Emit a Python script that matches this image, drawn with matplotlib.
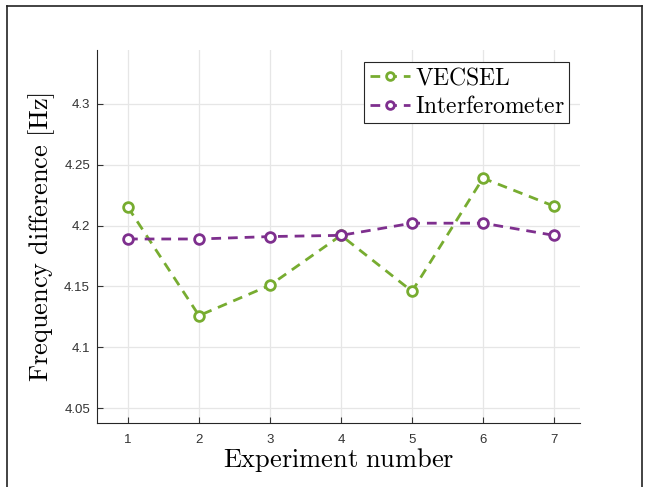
import matplotlib

matplotlib.use("Agg")
import matplotlib.pyplot as plt
from matplotlib.lines import Line2D

plt.rcParams["mathtext.fontset"] = "cm"
plt.rcParams["font.family"] = ["Liberation Sans", "DejaVu Sans"]

experiments = [1, 2, 3, 4, 5, 6, 7]
vecsel = [4.215, 4.126, 4.151, 4.192, 4.146, 4.239, 4.216]
interferometer = [4.189, 4.189, 4.191, 4.192, 4.202, 4.202, 4.192]
y_ticks = [4.05, 4.1, 4.15, 4.2, 4.25, 4.3]
y_tick_labels = ["4.05", "4.1", "4.15", "4.2", "4.25", "4.3"]

green = "#77AC30"
purple = "#7E2F8E"

fig = plt.figure(figsize=(6.47, 4.87), dpi=100)
ax = fig.add_axes([97 / 647, 1 - 423 / 487, (580 - 97) / 647, (423 - 50) / 487])

# figure frame (MATLAB export border)
frame = dict(color="#222222", linewidth=1.2, transform=fig.transFigure)
fig.add_artist(Line2D([7 / 647, 642 / 647], [1 - 6 / 487, 1 - 6 / 487], **frame))
fig.add_artist(Line2D([7 / 647, 7 / 647], [0, 1 - 6 / 487], **frame))
fig.add_artist(Line2D([642 / 647, 642 / 647], [0, 1 - 6 / 487], **frame))

style = dict(linestyle=(0, (3.5, 2.5)), linewidth=2, marker="o", markersize=7,
             markerfacecolor="white", markeredgewidth=2)
ax.plot(experiments, vecsel, color=green, label=r"$\mathrm{VECSEL}$", **style)
ax.plot(experiments, interferometer, color=purple,
        label=r"$\mathrm{Interferometer}$", **style)

ax.set_xlim(0.563, 7.366)
ax.set_ylim(4.0377, 4.3444)
ax.set_xticks(experiments)
ax.set_yticks(y_ticks)
ax.set_yticklabels(y_tick_labels)
ax.tick_params(direction="in", length=4, labelsize=9.5, colors="#333333",
               width=0.8, pad=5)
ax.tick_params(axis="x", pad=8)
ax.grid(True, color="#e6e6e6", linewidth=0.9)
ax.set_axisbelow(True)
for side in ["top", "right"]:
    ax.spines[side].set_visible(False)
for side in ["left", "bottom"]:
    ax.spines[side].set_color("#262626")
    ax.spines[side].set_linewidth(0.8)

ax.set_xlabel(r"$\mathrm{Experiment\ number}$", fontsize=19, labelpad=0)
ax.set_ylabel(r"$\mathrm{Frequency\ difference\ [Hz]}$", fontsize=19, labelpad=5)

leg = ax.legend(loc="upper right", bbox_to_anchor=(0.978, 0.968), fontsize=17,
                fancybox=False, framealpha=1, edgecolor="#262626",
                handlelength=1.7, handletextpad=0.2, borderpad=0.22,
                labelspacing=0.3, borderaxespad=0, markerscale=0.8)
leg.get_frame().set_linewidth(0.8)

fig.savefig("out.png", dpi=100, facecolor="white")
